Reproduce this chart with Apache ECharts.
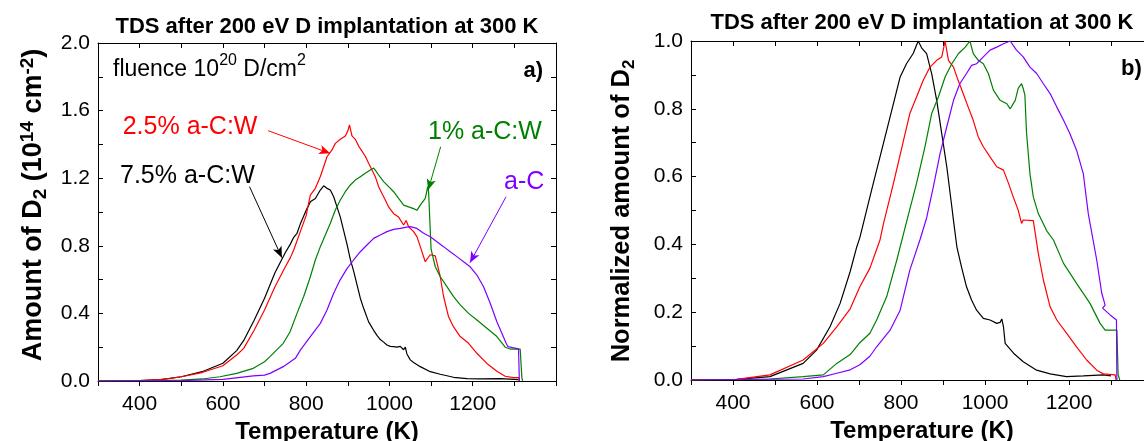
<!DOCTYPE html>
<html><head><meta charset="utf-8">
<script src="https://cdn.jsdelivr.net/npm/echarts@6/dist/echarts.min.js"></script>
<style>html,body{margin:0;padding:0;background:#fff}#c{width:1144px;height:441px}</style>
</head><body><div id="c"></div>
<script>
// ---------- data (Temperature K, value) ----------
const aBlack = [[300,0],[400,0.003],[450,0.008],[473,0.015],[500,0.025],[550,0.055],[600,0.105],[633,0.18],[650,0.24],[675,0.36],[700,0.49],[725,0.64],[750,0.76],[762,0.81],[770,0.85],[778,0.874],[786,0.93],[790,0.953],[800,1.01],[810,1.06],[822,1.08],[834,1.13],[842,1.155],[846,1.16],[850,1.14],[858,1.13],[866,1.09],[874,1.03],[882,0.97],[890,0.89],[898,0.81],[906,0.72],[914,0.65],[922,0.57],[930,0.49],[938,0.43],[950,0.35],[962,0.30],[970,0.27],[978,0.245],[986,0.23],[994,0.213],[1002,0.205],[1010,0.203],[1018,0.2],[1026,0.205],[1034,0.185],[1038,0.2],[1042,0.16],[1050,0.125],[1058,0.11],[1074,0.085],[1098,0.055],[1122,0.04],[1154,0.022],[1186,0.014],[1218,0.012],[1266,0.014],[1300,0.01],[1310,0.008]];
const aRed = [[300,0],[400,0.003],[450,0.008],[500,0.025],[550,0.05],[600,0.09],[633,0.154],[650,0.193],[675,0.30],[700,0.42],[725,0.558],[750,0.676],[762,0.73],[770,0.775],[786,0.884],[800,0.98],[810,1.1],[822,1.14],[834,1.21],[842,1.268],[850,1.327],[862,1.367],[870,1.406],[882,1.43],[894,1.45],[900,1.48],[904,1.515],[910,1.45],[918,1.43],[926,1.39],[934,1.36],[942,1.33],[950,1.288],[958,1.248],[966,1.209],[974,1.15],[982,1.11],[990,1.071],[998,1.03],[1010,0.99],[1022,0.97],[1034,0.923],[1040,0.95],[1046,0.913],[1058,0.884],[1066,0.854],[1074,0.795],[1086,0.706],[1090,0.716],[1098,0.747],[1110,0.74],[1122,0.617],[1130,0.5],[1142,0.38],[1154,0.32],[1170,0.263],[1190,0.223],[1210,0.164],[1234,0.104],[1258,0.058],[1278,0.028],[1298,0.02],[1310,0.02],[1312,0]];
const aGreen = [[300,0],[450,0.002],[500,0.005],[550,0.012],[593,0.025],[633,0.045],[673,0.075],[700,0.114],[713,0.144],[745,0.223],[761,0.29],[778,0.40],[794,0.5],[810,0.617],[822,0.716],[834,0.795],[846,0.864],[858,0.933],[870,1.012],[882,1.071],[894,1.12],[906,1.16],[918,1.189],[930,1.209],[942,1.229],[954,1.248],[962,1.26],[966,1.248],[974,1.219],[986,1.18],[998,1.15],[1010,1.12],[1022,1.08],[1034,1.041],[1046,1.03],[1058,1.02],[1066,1.01],[1074,1.041],[1086,1.08],[1092,1.15],[1094,1.12],[1100,0.78],[1110,0.676],[1122,0.617],[1138,0.558],[1154,0.499],[1170,0.45],[1190,0.4],[1210,0.361],[1234,0.312],[1258,0.263],[1278,0.2],[1290,0.189],[1314,0.189],[1318,0.02],[1320,0]];
const aPurple = [[300,0],[500,0.002],[600,0.01],[673,0.03],[700,0.035],[713,0.045],[745,0.085],[762,0.114],[774,0.134],[786,0.183],[810,0.263],[834,0.341],[850,0.42],[866,0.519],[882,0.6],[898,0.665],[914,0.716],[930,0.765],[946,0.805],[962,0.844],[978,0.864],[994,0.884],[1010,0.897],[1026,0.903],[1042,0.91],[1050,0.913],[1066,0.903],[1082,0.874],[1098,0.854],[1114,0.824],[1130,0.795],[1146,0.765],[1162,0.736],[1178,0.706],[1194,0.676],[1210,0.627],[1226,0.558],[1242,0.46],[1258,0.351],[1270,0.282],[1280,0.225],[1284,0.205],[1281,0.2],[1290,0.2],[1310,0.19],[1312,0]];

const bBlack = [[300,0],[409,0.002],[488,0.01],[567,0.049],[599,0.088],[631,0.157],[655,0.226],[679,0.32],[694,0.39],[702,0.42],[710,0.46],[722,0.52],[734,0.58],[758,0.697],[782,0.815],[798,0.894],[813,0.933],[829,0.963],[841,1.0],[849,0.98],[861,0.963],[873,0.904],[885,0.825],[897,0.727],[909,0.629],[921,0.511],[925,0.47],[933,0.393],[944,0.334],[956,0.275],[968,0.236],[980,0.206],[996,0.182],[1012,0.177],[1028,0.167],[1036,0.17],[1040,0.18],[1044,0.157],[1048,0.108],[1068,0.079],[1091,0.054],[1123,0.029],[1155,0.018],[1194,0.01],[1234,0.012],[1282,0.015],[1300,0.012]];
const bRed = [[300,0],[409,0.002],[488,0.015],[567,0.059],[615,0.108],[647,0.157],[679,0.21],[702,0.275],[726,0.33],[750,0.413],[758,0.46],[782,0.58],[806,0.707],[821,0.786],[837,0.835],[853,0.884],[869,0.923],[885,0.943],[897,0.953],[905,1.0],[913,0.943],[925,0.923],[936,0.884],[948,0.845],[960,0.805],[972,0.766],[984,0.717],[996,0.688],[1012,0.658],[1028,0.629],[1044,0.619],[1056,0.58],[1067,0.541],[1079,0.501],[1087,0.462],[1091,0.472],[1115,0.47],[1127,0.373],[1139,0.295],[1155,0.216],[1171,0.177],[1194,0.138],[1218,0.098],[1242,0.059],[1266,0.029],[1282,0.018],[1310,0.015],[1312,0]];
const bGreen = [[300,0],[488,0.003],[567,0.01],[615,0.015],[647,0.049],[679,0.075],[702,0.11],[726,0.138],[742,0.177],[766,0.246],[790,0.354],[814,0.47],[837,0.58],[857,0.688],[873,0.786],[889,0.835],[905,0.894],[921,0.933],[937,0.963],[953,0.982],[964,1.0],[972,0.963],[984,0.943],[996,0.933],[1008,0.904],[1020,0.855],[1036,0.825],[1052,0.815],[1060,0.8],[1072,0.825],[1079,0.86],[1087,0.874],[1091,0.86],[1095,0.84],[1099,0.727],[1107,0.609],[1115,0.54],[1127,0.491],[1147,0.44],[1163,0.413],[1187,0.344],[1218,0.285],[1250,0.226],[1274,0.167],[1286,0.147],[1314,0.147],[1317,0.015],[1321,0]];
const bPurple = [[300,0],[567,0.003],[615,0.01],[647,0.02],[679,0.03],[702,0.045],[726,0.07],[742,0.098],[774,0.147],[798,0.206],[821,0.324],[845,0.413],[861,0.478],[877,0.57],[893,0.668],[909,0.747],[925,0.825],[940,0.874],[956,0.904],[968,0.928],[980,0.933],[996,0.953],[1012,0.973],[1028,0.982],[1044,0.992],[1060,1.0],[1075,0.973],[1091,0.953],[1107,0.923],[1123,0.904],[1139,0.874],[1155,0.845],[1171,0.805],[1187,0.766],[1202,0.727],[1218,0.678],[1234,0.609],[1246,0.49],[1266,0.354],[1278,0.256],[1286,0.221],[1280,0.212],[1298,0.192],[1313,0.177],[1314,0]];

const xTickLabels = [400, 600, 800, 1000, 1200];
const aYTickLabels = ['0.0','0.4','0.8','1.2','1.6','2.0'];
const bYTickLabels = ['0.0','0.2','0.4','0.6','0.8','1.0'];
const seriesNames = ['7.5% a-C:W','2.5% a-C:W','1% a-C:W','a-C'];
const colors = ['#000000','#ff0000','#008000','#8000ff'];
const titleText = 'TDS after 200 eV D implantation at 300 K';
// annotation arrows (from label to curve), same order as seriesNames
const arrowsA = [
  [[663.9,1.15],[741.6,0.73]],
  [[708.7,1.481],[857.5,1.347]],
  [[1123,1.386],[1093,1.13]],
  [[1280,1.09],[1193.5,0.70]]
];

// ---------- chart ----------
const FF = '"Liberation Sans", Arial, sans-serif';
const chart = echarts.init(document.getElementById('c'), null, {renderer:'canvas'});

function xAx(grid, pos, showLabel) {
  return {
    gridIndex: grid, type: 'value', position: pos, min: 300, max: 1400, interval: 100,
    axisLine: {show: true, onZero: false, lineStyle: {color: '#000', width: 1}},
    axisTick: {show: true, inside: pos === 'top', length: 5, lineStyle: {color: '#000'}},
    splitLine: {show: false},
    axisLabel: {show: showLabel, margin: 13, fontSize: 21, color: '#000', fontFamily: FF,
      formatter: v => xTickLabels.indexOf(Math.round(v)) >= 0 ? String(Math.round(v)) : ''},
    name: showLabel ? 'Temperature (K)' : '', nameLocation: 'middle', nameGap: 32,
    nameTextStyle: {fontSize: 24, fontWeight: 'bold', color: '#000', fontFamily: FF}
  };
}
function yAx(grid, pos, max, interval, labels) {
  return {
    gridIndex: grid, type: 'value', position: pos, min: 0, max: max, interval: interval,
    axisLine: {show: true, onZero: false, lineStyle: {color: '#000', width: 1}},
    axisTick: {show: true, inside: true, length: 5, lineStyle: {color: '#000'}},
    splitLine: {show: false},
    axisLabel: {show: !!labels, margin: 8, fontSize: 21, color: '#000', fontFamily: FF,
      formatter: v => { const s = v.toFixed(1); return labels && labels.indexOf(s) >= 0 ? s : ''; }}
  };
}

function mkSeries(data, i, xi, yi, withArrow) {
  const s = {
    type: 'line', name: seriesNames[i], data: data, xAxisIndex: xi, yAxisIndex: yi,
    showSymbol: false, symbol: 'none', smooth: false, silent: true,
    lineStyle: {color: colors[i], width: 1.2}, itemStyle: {color: colors[i]},
    animation: false, z: 2 + i
  };
  if (withArrow) {
    const a = arrowsA[i];
    s.markLine = {
      silent: true, animation: false, symbol: ['none', 'arrow'], symbolSize: [7, 11],
      label: {show: false}, lineStyle: {color: colors[i], width: 1, type: 'solid'},
      data: [[{coord: a[0]}, {coord: a[1]}]]
    };
  }
  return s;
}

const txt = (x, y, text, size, color, weight, align) => ({
  type: 'text', x: x, y: y, silent: true,
  style: {text: text, fill: color, fontSize: size, fontWeight: weight || 'normal', fontFamily: FF,
    align: align || 'left', verticalAlign: 'middle', textAlign: align || 'left', textVerticalAlign: 'middle'}
});

const option = {
  animation: false,
  backgroundColor: '#fff',
  grid: [
    {left: 98, top: 43, width: 458, height: 338, outerBoundsMode: 'none', containLabel: false},
    {left: 691, top: 41, width: 462, height: 339, outerBoundsMode: 'none', containLabel: false}
  ],
  xAxis: [xAx(0, 'bottom', true), xAx(0, 'top', false), xAx(1, 'bottom', true), xAx(1, 'top', false)],
  yAxis: [yAx(0, 'left', 2.0, 0.2, aYTickLabels), yAx(0, 'right', 2.0, 0.2, null),
          yAx(1, 'left', 1.0, 0.1, bYTickLabels), yAx(1, 'right', 1.0, 0.1, null)],
  series: [
    mkSeries(aBlack, 0, 0, 0, true), mkSeries(aRed, 1, 0, 0, true),
    mkSeries(aGreen, 2, 0, 0, true), mkSeries(aPurple, 3, 0, 0, true),
    mkSeries(bBlack, 0, 2, 2, false), mkSeries(bRed, 1, 2, 2, false),
    mkSeries(bGreen, 2, 2, 2, false), mkSeries(bPurple, 3, 2, 2, false)
  ],
  graphic: [
    txt(327, 26.5, titleText, 22, '#000', 'bold', 'center'),
    txt(922, 23, titleText, 22, '#000', 'bold', 'center'),
    {type: 'text', x: 113, y: 67, silent: true, style: {
      text: '{n|fluence 10}{s|20}{n| D/cm}{s|2}', fill: '#000', fontFamily: FF,
      verticalAlign: 'middle', textVerticalAlign: 'middle',
      rich: {n: {fontSize: 23, fontFamily: FF, lineHeight: 28, verticalAlign: 'bottom'},
             s: {fontSize: 16, fontFamily: FF, lineHeight: 28, verticalAlign: 'top'}}}},
    txt(543, 71, 'a)', 22, '#000', 'bold', 'right'),
    txt(1121, 69, 'b)', 22, '#000', 'bold', 'left'),
    txt(122.7, 127, seriesNames[1], 25, colors[1]),
    txt(120, 176.5, seriesNames[0], 25, colors[0]),
    txt(428, 132.5, seriesNames[2], 25, colors[2]),
    txt(504, 182.5, seriesNames[3], 25, colors[3]),
    {type: 'text', x: 34, y: 205, rotation: Math.PI / 2, silent: true, style: {
      text: '{b|Amount of D}{sub|2}{b| (10}{sup|14}{b| cm}{sup|-2}{b|)}', fill: '#000', fontFamily: FF,
      align: 'center', verticalAlign: 'middle', textAlign: 'center', textVerticalAlign: 'middle',
      rich: {b: {fontSize: 27, fontWeight: 'bold', fontFamily: FF, lineHeight: 32, verticalAlign: 'middle'},
             sub: {fontSize: 19, fontWeight: 'bold', fontFamily: FF, lineHeight: 32, verticalAlign: 'bottom'},
             sup: {fontSize: 19, fontWeight: 'bold', fontFamily: FF, lineHeight: 32, verticalAlign: 'top'}}}},
    {type: 'text', x: 622, y: 211, rotation: Math.PI / 2, silent: true, style: {
      text: '{b|Normalized amount of D}{sub|2}', fill: '#000', fontFamily: FF,
      align: 'center', verticalAlign: 'middle', textAlign: 'center', textVerticalAlign: 'middle',
      rich: {b: {fontSize: 25.5, fontWeight: 'bold', fontFamily: FF, lineHeight: 32, verticalAlign: 'middle'},
             sub: {fontSize: 17, fontWeight: 'bold', fontFamily: FF, lineHeight: 32, verticalAlign: 'bottom'}}}}
  ]
};
chart.setOption(option);
</script>
</body></html>
